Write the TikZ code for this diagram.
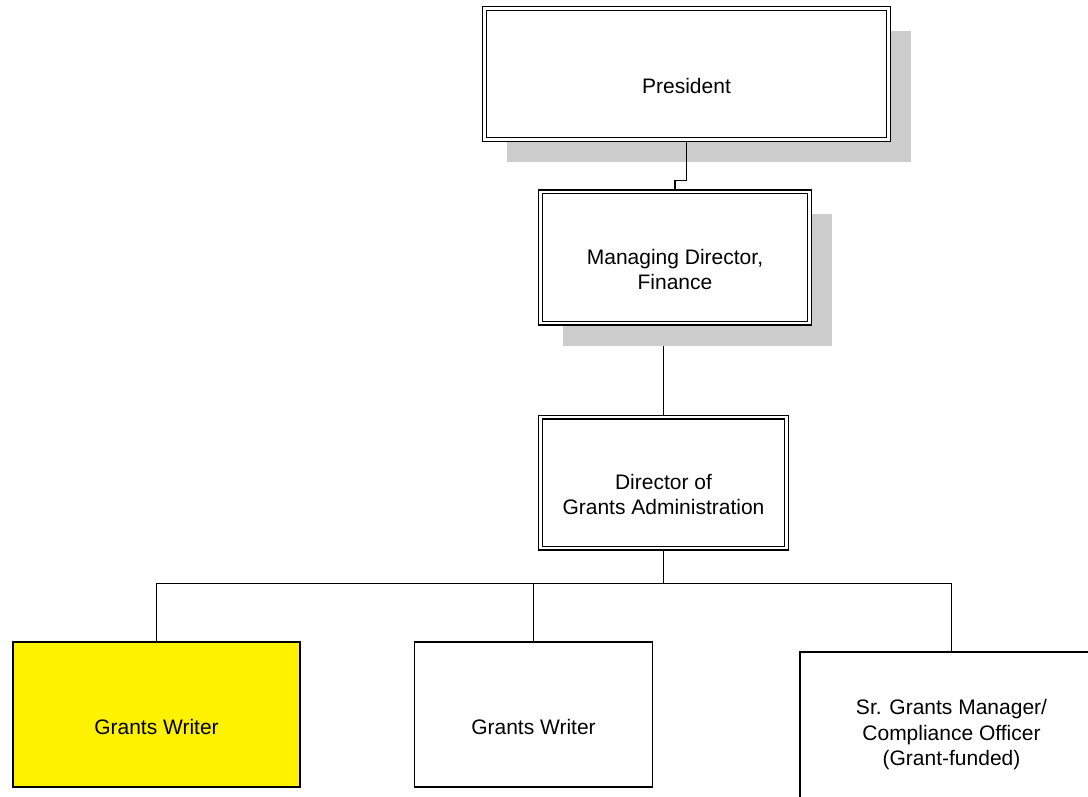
\documentclass[tikz,border=0pt]{standalone}
\usepackage{fontspec}
\setmainfont{Liberation Sans}
\usetikzlibrary{shadows,backgrounds}

\begin{document}
\begin{tikzpicture}[x=1pt,y=-1pt,
    head/.style={draw,double,line width=1.3pt,double distance=2.4pt,fill=white,
      outer sep=2.5pt,minimum height=131pt},
    shade/.style={drop shadow={shadow xshift=22.5pt,shadow yshift=-22.5pt,
      fill=black!20,opacity=1}},
    post/.style={draw,line width=1.6pt,minimum height=145.5pt},
    txt/.style={align=center,inner sep=0pt,font=\fontsize{21}{25.5}\selectfont},
    link/.style={line width=1.2pt}]
    \useasboundingbox (0,0) rectangle (1088,797);
    \clip (0,0) rectangle (1088,797);

    \node[head,shade,minimum width=404pt] (pres) at (686.5,74) {};
    \node[head,shade,minimum width=269pt] (md) at (675,257.5) {};
    \node[head,minimum width=246pt] (dir) at (663.5,482.5) {};

    \node[post,fill=yellow,minimum width=287.5pt] (gw1) at (156.5,714.5) {};
    \node[post,minimum width=238pt] (gw2) at (533.5,714.5) {};
    \node[post,minimum width=303pt,minimum height=152pt] (sr) at (951.5,727.8) {};

    \node[txt] (pres-t) at ([yshift=-12pt]pres.center) {President};
    \node[txt] (md-t) at ([yshift=-12pt]md.center) {Managing Director,\\Finance};
    \node[txt] (dir-t) at ([yshift=-12pt]dir.center) {Director of\\Grants Administration};
    \node[txt] (gw1-t) at ([yshift=-12.5pt]gw1.center) {Grants Writer};
    \node[txt] (gw2-t) at ([yshift=-12.5pt]gw2.center) {Grants Writer};
    \node[txt] (sr-t) at ([yshift=-7.2pt]sr.center) {Sr. Grants Manager/\\Compliance Officer\\(Grant-funded)};

    \coordinate (bus) at (663.5,583.5);
    \draw[link] (pres.south) -- ++(0,38.5) -| (md.north);
    \begin{scope}[on background layer]
      \draw[link] (md.south -| dir.north) -- (dir.north);
    \end{scope}
    \draw[link] (dir.south) -- (bus);
    \foreach \k in {gw1,gw2,sr}
    {
      \draw[link] (\k.north) |- (bus);
    }
\end{tikzpicture}
\end{document}
